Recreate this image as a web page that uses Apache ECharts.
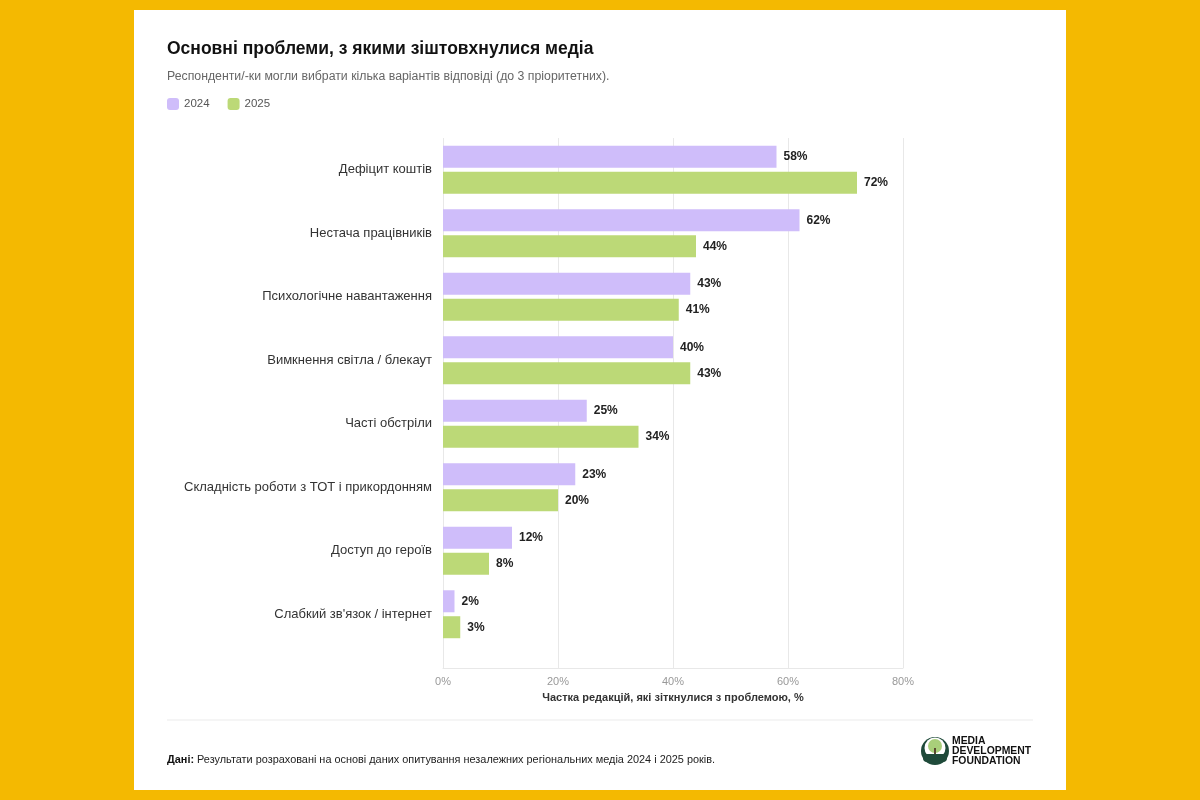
<!DOCTYPE html>
<html>
<head>
<meta charset="utf-8">
<title>Основні проблеми, з якими зіштовхнулися медіа</title>
<script src="https://cdn.jsdelivr.net/npm/echarts@6/dist/echarts.min.js"></script>
<style>
  html, body { margin: 0; padding: 0; background: #F4B901; }
  #chart { width: 1200px; height: 800px; }
</style>
</head>
<body>
<div id="chart"></div>
<script>
// дані
const categories = [
  'Дефіцит коштів',
  'Нестача працівників',
  'Психологічне навантаження',
  'Вимкнення світла / блекаут',
  'Часті обстріли',
  'Складність роботи з ТОТ і прикордонням',
  'Доступ до героїв',
  'Слабкий зв\'язок / інтернет'
];
const years = ['2024', '2025'];
const values2024 = [58, 62, 43, 40, 25, 23, 12, 2];
const values2025 = [72, 44, 41, 43, 34, 20, 8, 3];
const xTicks = [0, 20, 40, 60, 80];

const FONT = '"Liberation Sans", Arial, sans-serif';
const PURPLE = '#CFBDFA';
const GREEN = '#BCD977';

const chart = echarts.init(document.getElementById('chart'));

function barSeries(name, data, color) {
  return {
    name: name,
    type: 'bar',
    xAxisIndex: 0,
    yAxisIndex: 0,
    data: data,
    barWidth: 22,
    barGap: '18%',
    itemStyle: { color: color },
    label: {
      show: true,
      position: 'right',
      distance: 7,
      formatter: '{c}%',
      fontFamily: FONT,
      fontSize: 12,
      fontWeight: 'bold',
      color: '#222'
    },
    emphasis: { disabled: true }
  };
}

chart.setOption({
  backgroundColor: '#F4B901',
  animation: false,
  textStyle: { fontFamily: FONT },
  title: [
    {
      text: 'Основні проблеми, з якими зіштовхнулися медіа',
      left: 162, top: 35,
      textStyle: { fontSize: 17.5, fontWeight: 'bold', color: '#111', fontFamily: FONT }
    },
    {
      text: 'Респонденти/-ки могли вибрати кілька варіантів відповіді (до 3 пріоритетних).',
      left: 162, top: 66,
      textStyle: { fontSize: 12.3, fontWeight: 'normal', color: '#666', fontFamily: FONT }
    }
  ],
  legend: {
    data: years,
    left: 162, top: 93,
    icon: 'roundRect',
    itemWidth: 12, itemHeight: 12,
    itemGap: 18,
    selectedMode: false,
    textStyle: { fontSize: 11.5, color: '#555', fontFamily: FONT }
  },
  grid: [
    { left: 443, top: 138, width: 460, height: 508 },
    { left: 443, top: 646, width: 460, height: 22 }
  ],
  xAxis: [
    {
      gridIndex: 0, type: 'value', min: 0, max: 80, interval: 20,
      axisLabel: { show: false }, axisLine: { show: false }, axisTick: { show: false },
      splitLine: { lineStyle: { color: '#E8E8E8', width: 1 } }
    },
    {
      gridIndex: 1, type: 'value', min: 0, max: 80, interval: 20,
      axisLabel: {
        formatter: v => xTicks.includes(v) ? v + '%' : '',
        color: '#999', fontSize: 11, margin: 8, fontFamily: FONT
      },
      axisLine: { show: true, lineStyle: { color: '#E8E8E8' } },
      axisTick: { show: false },
      splitLine: { lineStyle: { color: '#E8E8E8', width: 1 } },
      name: 'Частка редакцій, які зіткнулися з проблемою, %',
      nameLocation: 'middle',
      nameGap: 24,
      nameTextStyle: { fontSize: 11, fontWeight: 'bold', color: '#333', fontFamily: FONT }
    }
  ],
  yAxis: [
    {
      gridIndex: 0, type: 'category', data: categories, inverse: true,
      axisLine: { show: false }, axisTick: { show: false },
      axisLabel: { color: '#333', fontSize: 13, margin: 11, fontFamily: FONT }
    },
    { gridIndex: 1, type: 'value', show: false }
  ],
  series: [
    barSeries(years[0], values2024, PURPLE),
    barSeries(years[1], values2025, GREEN)
  ],
  graphic: [
    { type: 'rect', z: -10, shape: { x: 134, y: 10, width: 932, height: 780 }, style: { fill: '#fff' } },
    { type: 'line', shape: { x1: 167, y1: 720, x2: 1033, y2: 720 }, style: { stroke: '#EBEBEB', lineWidth: 1 } },
    {
      type: 'text', left: 167, top: 754,
      style: {
        text: '{b|Дані:} Результати розраховані на основі даних опитування незалежних регіональних медіа 2024 і 2025 років.',
        font: '10.9px ' + FONT, fill: '#222',
        rich: { b: { fontWeight: 'bold', fontSize: 10.9, fontFamily: FONT, fill: '#111' } }
      }
    },
    // логотип
    { type: 'circle', shape: { cx: 935, cy: 751, r: 14 }, style: { fill: '#1F4A3A' } },
    { type: 'circle', shape: { cx: 935, cy: 748, r: 10.5 }, style: { fill: '#fff' } },
    { type: 'circle', shape: { cx: 935, cy: 746, r: 7 }, style: { fill: '#A9CF7A' } },
    { type: 'rect', shape: { x: 934, y: 748, width: 2, height: 8 }, style: { fill: '#5A4A30' } },
    { type: 'rect', shape: { x: 923, y: 754, width: 24, height: 8, r: 4 }, style: { fill: '#1F4A3A' } },
    {
      type: 'text', left: 952, top: 736,
      style: {
        text: 'MEDIA\nDEVELOPMENT\nFOUNDATION',
        font: 'bold 10.4px ' + FONT, fill: '#111', lineHeight: 10
      }
    }
  ]
});
</script>
</body>
</html>
